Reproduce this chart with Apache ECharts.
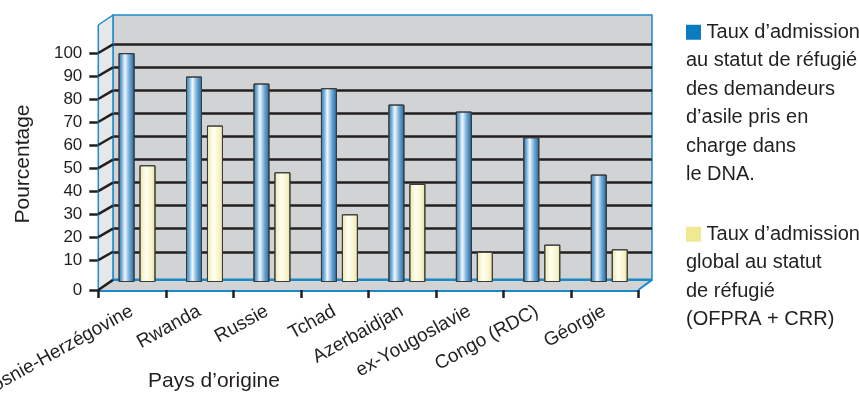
<!DOCTYPE html>
<html><head><meta charset="utf-8">
<script src="https://cdn.jsdelivr.net/npm/echarts@6/dist/echarts.min.js"></script>
<style>html,body{margin:0;padding:0;background:#fff}#c{width:859px;height:394px}</style>
</head><body><div id="c"></div>
<script>
// ---- data ----
const categories = ['Bosnie-Herzégovine','Rwanda','Russie','Tchad','Azerbaidjan','ex-Yougoslavie','Congo (RDC)','Géorgie'];
const dnaValues = [98, 88, 85, 83, 76, 73, 62, 46];
const globalValues = [50, 67, 47, 29, 42, 13, 16, 14];
const yTicks = [0,10,20,30,40,50,60,70,80,90,100];
const seriesNames = [
  'Taux d’admission au statut de réfugié des demandeurs d’asile pris en charge dans le DNA.',
  'Taux d’admission global au statut de réfugié (OFPRA + CRR)'
];
const legendLines1 = ['Taux d’admission','au statut de réfugié','des demandeurs','d’asile pris en','charge dans','le DNA.'];
const legendLines2 = ['Taux d’admission','global au statut','de réfugié','(OFPRA + CRR)'];
const yAxisTitle = 'Pourcentage';
const xAxisTitle = 'Pays d’origine';

// ---- style / layout ----
const FONT = "'Liberation Sans', Arial, sans-serif";
const TXT = '#231f20';
const EDGE = '#1b8ac9';
const WALL = '#d1d3d4';
const SIDE = '#e6e7e8';
const FRONT_X = 98.3, BACK_X = 113, BACK_RIGHT = 652, FRONT_RIGHT = 638.3;
const WALL_TOP_BACK = 15, WALL_TOP_FRONT = 25;
const FLOOR = -3, BACK_FLOOR = -2.2;

const chart = echarts.init(document.getElementById('c'), null, {renderer:'canvas'});

const blueGrad = new echarts.graphic.LinearGradient(0,0,1,0,[
  {offset:0,color:'#2f78b5'},{offset:0.18,color:'#6aa8d6'},{offset:0.4,color:'#f2f8fc'},
  {offset:0.7,color:'#6aa5d2'},{offset:1,color:'#1e66a3'}]);
const yellowGrad = new echarts.graphic.LinearGradient(0,0,1,0,[
  {offset:0,color:'#ede6a2'},{offset:0.4,color:'#fffff4'},{offset:0.75,color:'#f8f4cc'},{offset:1,color:'#e9e199'}]);

const tickPos = yTicks.map(t => t === 0 ? FLOOR : t);
const gridBase = {containLabel:false, outerBoundsMode:'none'};

const option = {
  animation: false,
  textStyle: {fontFamily: FONT},
  grid: [
    Object.assign({left:BACK_X, top:WALL_TOP_BACK, width:BACK_RIGHT-BACK_X, height:265, show:true, backgroundColor:WALL, borderColor:EDGE, borderWidth:1.5}, gridBase),
    Object.assign({left:BACK_X, top:44.3, width:BACK_RIGHT-BACK_X, height:230.5}, gridBase),
    Object.assign({left:103.3, top:48.5, width:539.7, height:233.5}, gridBase),
    Object.assign({left:FRONT_X, top:53, width:FRONT_RIGHT-FRONT_X, height:237}, gridBase)
  ],
  xAxis: [
    {gridIndex:0, type:'category', data:categories, show:false},
    {gridIndex:1, type:'category', data:categories, show:false},
    {gridIndex:2, type:'category', data:categories, show:false},
    {gridIndex:3, type:'category', data:categories,
      axisLine:{onZero:false, lineStyle:{color:EDGE, width:3}},
      axisTick:{show:true, length:8, lineStyle:{color:TXT, width:2.5}},
      axisLabel:{rotate:29, interval:0, margin:20, fontSize:19, color:TXT, fontFamily:FONT}}
  ],
  yAxis: [
    {gridIndex:0, type:'value', min:0, max:100, show:false},
    {gridIndex:1, type:'value', min:0, max:100, interval:10,
      axisLine:{show:false}, axisTick:{show:false}, axisLabel:{show:false},
      splitLine:{show:true, showMinLine:false, lineStyle:{color:TXT, width:2.5}}},
    {gridIndex:2, type:'value', min:0, max:100, show:false},
    {gridIndex:3, type:'value', min:FLOOR, max:100,
      axisLine:{show:false}, splitLine:{show:false},
      axisTick:{show:true, length:9, customValues:tickPos, lineStyle:{color:TXT, width:2.5}},
      axisLabel:{customValues:tickPos, formatter: v => (v <= 0 ? '0' : String(Math.round(v))), margin:16, fontSize:17, color:TXT, fontFamily:FONT}}
  ],
  legend: {
    orient:'vertical', left:675, top:13, itemWidth:0, itemHeight:0, itemGap:31,
    icon:'rect', selectedMode:false, data: seriesNames,
    formatter: name => {
      const i = seriesNames.indexOf(name);
      const lines = (i === 0 ? legendLines1 : legendLines2).slice();
      lines[0] = '{' + (i === 0 ? 'b' : 'y') + '|}' + ' ' + lines[0];
      return lines.join('\n');
    },
    textStyle: {fontSize:20, lineHeight:28.5, color:TXT, fontFamily:FONT,
      rich: {
        b:{width:15, height:15, backgroundColor:'#0c7cc1'},
        y:{width:15, height:15, backgroundColor:'#efe994'}
      }}
  },
  series: [
    {type:'bar', name:seriesNames[0], xAxisIndex:2, yAxisIndex:2, data:dnaValues, barWidth:16, barGap:'31%', z:5,
      itemStyle:{color:blueGrad, borderColor:'#3a3a3a', borderWidth:1}},
    {type:'bar', name:seriesNames[1], xAxisIndex:2, yAxisIndex:2, data:globalValues, barWidth:16, barGap:'31%', z:5,
      itemStyle:{color:yellowGrad, borderColor:'#3a3a3a', borderWidth:1}}
  ]
};
chart.setOption(option);

// ---- 3D decorations derived from the axes ----
const yF = v => chart.convertToPixel({yAxisIndex:3}, v);
const yB = v => chart.convertToPixel({yAxisIndex:1}, v);
const frontFloor = yF(FLOOR), backFloor = yB(BACK_FLOOR);
const g = [];
g.push({type:'polygon', z:1, shape:{points:[[FRONT_X,WALL_TOP_FRONT],[BACK_X,WALL_TOP_BACK],[BACK_X,backFloor],[FRONT_X,frontFloor]]},
  style:{fill:SIDE, stroke:null}});
g.push({type:'polygon', z:1, shape:{points:[[FRONT_X,frontFloor],[BACK_X,backFloor],[BACK_RIGHT,backFloor],[FRONT_RIGHT,frontFloor]]},
  style:{fill:WALL, stroke:null}});
g.push({type:'line', z:2, shape:{x1:BACK_X,y1:backFloor,x2:BACK_RIGHT,y2:backFloor}, style:{stroke:EDGE, lineWidth:2.5}});
g.push({type:'line', z:2, shape:{x1:BACK_RIGHT,y1:backFloor,x2:FRONT_RIGHT,y2:frontFloor}, style:{stroke:EDGE, lineWidth:2}});
g.push({type:'line', z:2, shape:{x1:BACK_X,y1:WALL_TOP_BACK,x2:BACK_X,y2:backFloor}, style:{stroke:EDGE, lineWidth:1.5}});
g.push({type:'line', z:2, shape:{x1:FRONT_X,y1:WALL_TOP_FRONT,x2:FRONT_X,y2:frontFloor}, style:{stroke:EDGE, lineWidth:1.5}});
g.push({type:'line', z:2, shape:{x1:FRONT_X,y1:WALL_TOP_FRONT,x2:BACK_X,y2:WALL_TOP_BACK}, style:{stroke:EDGE, lineWidth:1.5}});
yTicks.forEach(t => {
  const y1 = t === 0 ? frontFloor : yF(t);
  const y2 = t === 0 ? backFloor : yB(t);
  g.push({type:'line', z:3, shape:{x1:FRONT_X,y1:y1,x2:BACK_X,y2:y2}, style:{stroke:TXT, lineWidth:2.5}});
});
g.push({type:'text', z:3, x:214, y:381, style:{text:xAxisTitle, fontSize:21, fill:TXT, fontFamily:FONT, textAlign:'center', textVerticalAlign:'middle'}});
g.push({type:'text', z:3, x:23, y:164, rotation:Math.PI/2, style:{text:yAxisTitle, fontSize:21, fill:TXT, fontFamily:FONT, textAlign:'center', textVerticalAlign:'middle'}});
chart.setOption({graphic: g});
</script>
</body></html>
